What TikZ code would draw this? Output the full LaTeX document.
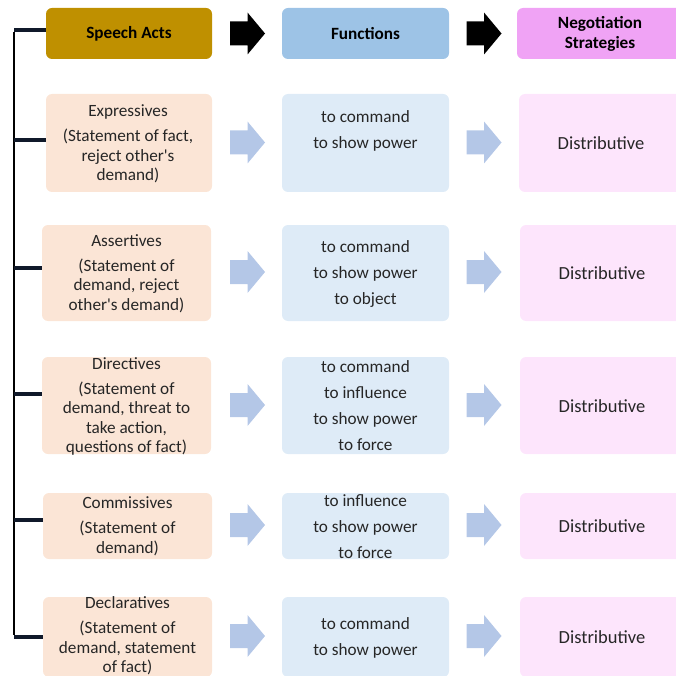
\documentclass[tikz,border=0pt]{standalone}
\usepackage{fontspec}
\setmainfont{Carlito}
\definecolor{gold}{HTML}{BF9000}
\definecolor{hblue}{HTML}{9DC3E6}
\definecolor{hpink}{HTML}{F0A3F5}
\definecolor{lpeach}{HTML}{FBE5D6}
\definecolor{lblue}{HTML}{DEEBF7}
\definecolor{lpink}{HTML}{FDE5FC}
\definecolor{abl}{HTML}{B4C7E7}
\definecolor{txtc}{HTML}{262626}
\definecolor{tickc}{HTML}{10192A}
\begin{document}
\begin{tikzpicture}[x=1pt,y=-1pt,
  box/.style={rectangle,rounded corners=6pt,inner sep=0pt,draw=none},
  hbox/.style={box,minimum height=51pt,align=center,text=black,font=\bfseries\fontsize{17.2}{20}\selectfont},
  lbox/.style={box,fill=lpeach,minimum width=169pt},
  mbox/.style={box,fill=lblue,minimum width=167pt},
  rbox/.style={box,fill=lpink,minimum width=164pt},
  ltxt/.style={align=center,text=txtc,inner sep=0pt,font=\fontsize{17.2}{19.5}\selectfont},
  mtxt/.style={align=center,text=txtc,inner sep=0pt,font=\fontsize{17.2}{26}\selectfont},
  rtxt/.style={align=center,text=txtc,inner sep=0pt,font=\fontsize{18.5}{22}\selectfont},
  spine/.style={line width=2pt,draw=black},
  tickline/.style={line width=4.5pt,draw=tickc},
  barrow/.pic={\fill (0,-12) -- (17.5,-12) -- (17.5,-21) -- (35,0) -- (17.5,21) -- (17.5,12) -- (0,12) -- cycle;}
]
\useasboundingbox (0,0) rectangle (676,676);
\clip (0,0) rectangle (676,676);

% header
\node[hbox,fill=gold,minimum width=166pt] (h1) at (129,33.5) {Speech Acts};
\node[hbox,fill=hblue,minimum width=167pt] (h2) at (365.5,33.5) {Functions};
\node[hbox,fill=hpink,minimum width=166pt] (h3) at (600,33.5) {Negotiation\\Strategies};
\pic[fill=black] (ha1) at (230,33.5) {barrow};
\pic[fill=black] (ha2) at (466.5,33.5) {barrow};

% row boxes
\node[lbox,minimum width=166pt,minimum height=98pt] (L1) at (129,143) {};
\node[mbox,minimum height=98pt] (M1) at (365.5,143) {};
\node[rbox,minimum width=165pt,minimum height=98pt] (R1) at (601.5,143) {};

\node[lbox,minimum height=96pt] (L2) at (126.5,273) {};
\node[mbox,minimum height=96pt] (M2) at (365.5,273) {};
\node[rbox,minimum height=96pt] (R2) at (602,273) {};

\node[lbox,minimum height=97pt] (L3) at (126.5,405.5) {};
\node[mbox,minimum height=97pt] (M3) at (365.5,405.5) {};
\node[rbox,minimum height=97pt] (R3) at (602,405.5) {};

\node[lbox,minimum height=66pt] (L4) at (127.5,526) {};
\node[mbox,minimum height=66pt] (M4) at (365.5,526) {};
\node[rbox,minimum height=66pt] (R4) at (602,526) {};

\node[lbox,minimum height=80pt] (L5) at (127.5,637) {};
\node[mbox,minimum height=80pt] (M5) at (365.5,637) {};
\node[rbox,minimum height=80pt] (R5) at (602,637) {};

% texts
\node[ltxt] (L1t) at (128,144) {Expressives\\[5.5pt](Statement of fact,\\reject other\textquotesingle s\\demand)};
\node[ltxt] (L2t) at (126.5,273.5) {Assertives\\[5.5pt](Statement of\\demand, reject\\other\textquotesingle s demand)};
\node[ltxt] (L3t) at (126.5,406.5) {Directives\\[5.5pt](Statement of\\demand, threat to\\take action,\\questions of fact)};
\node[ltxt] (L4t) at (127.5,526.5) {Commissives\\[5.5pt](Statement of\\demand)};
\node[ltxt] (L5t) at (127.5,635.5) {Declaratives\\[5.5pt](Statement of\\demand, statement\\[-0.5pt]of fact)};

\node[mtxt] (M1t) at (365.5,131) {to command\\to show power};
\node[mtxt] (M2t) at (365.5,274) {to command\\to show power\\to object};
\node[mtxt] (M3t) at (365.5,406) {to command\\to influence\\to show power\\to force};
\node[mtxt] (M4t) at (365.5,526.5) {to influence\\to show power\\to force};
\node[mtxt] (M5t) at (365.5,638) {to command\\to show power};

\node[rtxt] (R1t) at (601,143) {Distributive};
\node[rtxt] (R2t) at (602,273) {Distributive};
\node[rtxt] (R3t) at (602,406) {Distributive};
\node[rtxt] (R4t) at (602,526) {Distributive};
\node[rtxt] (R5t) at (602,637) {Distributive};

% block arrows
\foreach \yy [count=\i] in {142.5,272,405,525,636}{
  \pic[fill=abl] (a\i) at (230,\yy) {barrow};
  \pic[fill=abl] (b\i) at (466.5,\yy) {barrow};
}

% bracket
\coordinate (s0) at (14,30);
\coordinate (s1) at (14,140);
\coordinate (s2) at (14,268);
\coordinate (s3) at (14,394);
\coordinate (s4) at (14,520);
\coordinate (s5) at (14,637);
\draw[spine] ([yshift=-2pt]s0) -- ([yshift=2pt]s5);
\draw[tickline] (s0) -- (s0 -| h1.west);
\draw[tickline] (s1) -- (s1 -| L1.west);
\draw[tickline] (s2) -- (s2 -| L2.west);
\draw[tickline] (s3) -- (s3 -| L3.west);
\draw[tickline] (s4) -- (s4 -| L4.west);
\draw[tickline] (s5) -- (s5 -| L5.west);
\end{tikzpicture}
\end{document}
